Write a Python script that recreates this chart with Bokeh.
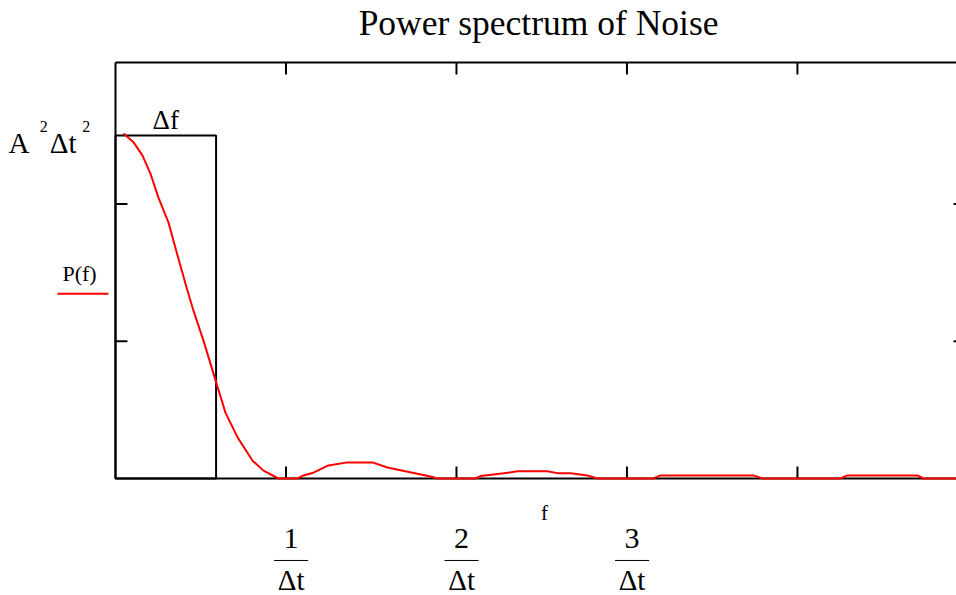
from bokeh.plotting import figure
from bokeh.models import Range1d, Label
from bokeh.embed import file_html
from bokeh.resources import INLINE

# ---- data ----
freq = [0.047, 0.106, 0.158, 0.205, 0.252, 0.311, 0.364, 0.422, 0.457, 0.516,
        0.587, 0.645, 0.716, 0.804, 0.868, 0.956, 1.067, 1.103, 1.161, 1.249,
        1.361, 1.507, 1.595, 1.848, 1.889, 2.111, 2.141, 2.217, 2.276, 2.358,
        2.534, 2.598, 2.669, 2.768, 2.827, 3.155, 3.196, 3.742, 3.795, 4.252,
        4.293, 4.704, 4.739, 4.933]
power = [1.006, 0.980, 0.942, 0.889, 0.819, 0.746, 0.650, 0.548, 0.490, 0.402,
         0.286, 0.192, 0.120, 0.052, 0.023, 0.0, 0.0, 0.009, 0.017, 0.038,
         0.047, 0.047, 0.032, 0.006, 0.0, 0.0, 0.007, 0.012, 0.015, 0.021,
         0.021, 0.015, 0.015, 0.009, 0.0, 0.0, 0.009, 0.009, 0.0, 0.0,
         0.009, 0.009, 0.0, 0.0]
x_ticks = [1, 2, 3, 4]
y_ticks = [0.4, 0.8]
frac_ticks = [1, 2, 3]
frac_nums = ["1", "2", "3"]
frac_den = "Δt"
df_width = 0.59
peak = 1.0
x_max = 4.933      # right edge of the plot box
y_max = 1.213      # top edge of the plot box

SERIF = "Liberation Serif"
PX_Y = 343.0       # pixels per y unit

# The figure's frame fills the whole canvas; the plot box (0..x_max, 0..y_max)
# sits inside it so that the texts around the box can be drawn without clipping.
p = figure(width=956, height=595, output_backend="svg", toolbar_location=None,
           x_range=Range1d(-0.6745, x_max), y_range=Range1d(-0.3411, 1.3936),
           x_axis_type=None, y_axis_type=None, min_border=0)
p.outline_line_color = None
p.background_fill_color = "white"
p.border_fill_color = "white"

# plot box (bottom, top, left)
tick_x = 12 / 170.5   # tick length in x units
tick_y = 12 / PX_Y    # tick length in y units
p.segment(x0=[0, 0, 0], y0=[0, y_max, 0], x1=[x_max, x_max, 0],
          y1=[0, y_max, y_max], line_color="black", line_width=2)
# inward ticks
p.segment(x0=x_ticks, y0=[0] * len(x_ticks), x1=x_ticks,
          y1=[tick_y] * len(x_ticks), line_color="black", line_width=2)
p.segment(x0=x_ticks, y0=[y_max] * len(x_ticks), x1=x_ticks,
          y1=[y_max - tick_y] * len(x_ticks), line_color="black", line_width=2)
p.segment(x0=[0] * len(y_ticks), y0=y_ticks, x1=[tick_x] * len(y_ticks),
          y1=y_ticks, line_color="black", line_width=2)
p.segment(x0=[x_max] * len(y_ticks), y0=y_ticks,
          x1=[x_max - tick_x / 4] * len(y_ticks), y1=y_ticks,
          line_color="black", line_width=2)

# delta-f box
p.quad(left=[0], right=[df_width], bottom=[0], top=[peak], fill_color=None,
       line_color="black", line_width=2)

# spectrum
p.line(freq, power, line_color="red", line_width=2)


def text(x, y, s, size, align="left", color="black"):
    # y is the wanted baseline; lift a little to compensate for the label box
    yb = y + 0.33 * size / PX_Y
    p.add_layout(Label(x=x, y=yb, text=s, text_font=SERIF,
                       text_font_size=f"{size}px", text_align=align,
                       text_baseline="alphabetic", text_color=color))


# title
text(x_max / 2 + 0.015, 1.2945, "Power spectrum of Noise", 35.5, align="center")

# labels
text(df_width / 2, 1.02, "Δf", 27, align="center")
text(-0.628, 0.950, "A", 29)
text(-0.445, 1.012, "2", 16)
text(-0.385, 0.950, "Δt", 29)
text(-0.195, 1.012, "2", 16)
text(-0.311, 0.577, "P(f)", 22)
p.segment(x0=[-0.340], y0=[0.539], x1=[-0.041], y1=[0.539], line_color="red",
          line_width=2)
text(2.516, -0.120, "f", 21, align="center")

frac_cx = [t + 0.03 for t in frac_ticks]
for cx, n in zip(frac_cx, frac_nums):
    text(cx, -0.204, n, 30, align="center")
    text(cx, -0.323, frac_den, 29, align="center")
p.segment(x0=[c - 0.1 for c in frac_cx], y0=[-0.239] * len(frac_cx),
          x1=[c + 0.1 for c in frac_cx], y1=[-0.239] * len(frac_cx),
          line_color="black", line_width=1)

open("out.html", "w").write(file_html(p, INLINE))
